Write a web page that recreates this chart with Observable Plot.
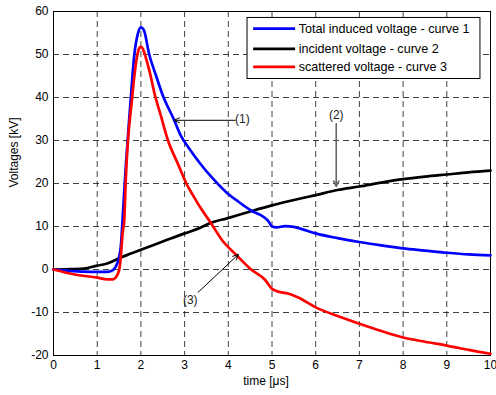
<!DOCTYPE html>
<html>
<head>
<meta charset="utf-8">
<script src="https://cdn.jsdelivr.net/npm/d3@7"></script>
<script src="https://cdn.jsdelivr.net/npm/@observablehq/plot@0.6"></script>
<style>
  html, body { margin: 0; padding: 0; background: #fff; }
  svg { font-family: "Liberation Sans", Arial, sans-serif; }
</style>
</head>
<body>
<div id="chart"></div>
<script>
const xTicks = [0,1,2,3,4,5,6,7,8,9,10];
const yTicks = [-20,-10,0,10,20,30,40,50,60];

const seriesNames = ["Total induced voltage - curve 1", "incident voltage - curve 2", "scattered voltage - curve 3"];
const seriesColors = ["#0000ff", "#000000", "#ff0000"];

const blueX = [0,0.3,0.69,1.0,1.23,1.35,1.42,1.5,1.54,1.58,1.63,1.77,1.85,1.93,2.0,2.07,2.19,2.35,2.5,2.75,2.92,3.1,3.36,3.66,3.97,4.2,4.54,4.81,4.92,5.0,5.1,5.3,5.5,5.65,6.0,6.5,7.0,7.5,8.0,8.5,9.0,9.5,10];
const blueY = [0,-0.25,-0.5,-0.55,-0.55,-0.2,0.6,2.8,5.3,11.5,20,40,50,54.8,56.3,55.6,50,45,40.5,35,31,28.2,24.6,21,17.8,16,13.6,12.2,11.2,10,9.8,10.1,9.9,9.5,8.4,7.3,6.4,5.6,4.9,4.4,3.9,3.5,3.3];

const redX = [0,0.46,1.0,1.23,1.35,1.42,1.5,1.54,1.58,1.62,1.65,1.8,1.92,1.97,2.0,2.05,2.12,2.2,2.31,2.45,2.62,2.85,3.04,3.19,3.36,3.59,3.86,4.2,4.5,4.85,5.0,5.1,5.37,5.6,6.0,6.5,7.0,7.5,8.0,8.5,9.0,9.5,10];
const redY = [0,-1.1,-1.9,-2.3,-2.3,-1.9,-0.2,2.9,8.4,11.5,20,40,50,51.6,51.8,51.2,49,46,41,36,30,24.5,20,17.3,14.4,11,6.8,3.2,0.2,-2.5,-4.5,-5.0,-5.6,-6.5,-8.8,-10.8,-12.6,-14.3,-15.8,-16.8,-17.7,-18.7,-19.6];

const blackX = [0,0.3,0.69,1.0,1.23,1.54,1.77,2.0,2.5,3.0,3.36,3.59,3.97,4.54,5.0,5.65,6.0,6.5,7.0,7.5,8.0,8.5,9.0,9.5,10];
const blackY = [0,0.05,0.2,0.9,1.4,2.8,3.7,4.6,6.5,8.4,9.7,10.8,11.9,13.6,14.9,16.5,17.3,18.5,19.3,20.2,21.0,21.6,22.1,22.6,23.0];

const annLabels = ["(1)", "(2)", "(3)"];
const annTextX = [4.32, 6.47, 3.13];
const annTextY = [35, 35.8, -7.2];
const arrowX1 = [4.16, 6.47, 3.31];
const arrowY1 = [34.7, 33.9, -5.3];
const arrowX2 = [2.76, 6.47, 4.23];
const arrowY2 = [34.7, 19.3, 3.5];

const toPts = (xs, ys) => xs.map((x, i) => ({x, y: ys[i]}));
const blue = toPts(blueX, blueY);
const red = toPts(redX, redY);
const black = toPts(blackX, blackY);

const ann = annLabels.map((t, i) => ({t, tx: annTextX[i], ty: annTextY[i], x1: arrowX1[i], y1: arrowY1[i], x2: arrowX2[i], y2: arrowY2[i]}));

// legend rows (data coordinates inside the frame)
const legRowY = [56.0, 51.3, 47.1];
const legend = seriesNames.map((n, i) => ({n, c: seriesColors[i], y: legRowY[i]}));

const chart = Plot.plot({
  width: 496,
  height: 395,
  marginLeft: 53,
  marginRight: 6,
  marginTop: 11,
  marginBottom: 40,
  style: {fontFamily: "Liberation Sans, Arial, sans-serif", fontSize: "12px", background: "#fff"},
  x: {type: "linear", domain: [0, 10]},
  y: {type: "linear", domain: [-20, 60]},
  marks: [
    Plot.gridX(xTicks.slice(1, -1), {stroke: "#000", strokeOpacity: 0.75, strokeDasharray: "6,4"}),
    Plot.gridY(yTicks.slice(1, -1), {stroke: "#000", strokeOpacity: 0.75, strokeDasharray: "6,4"}),
    Plot.axisX({ticks: xTicks, tickSize: 0, tickPadding: 5, fontSize: 12, label: null, tickFormat: d => String(d)}),
    Plot.axisY({ticks: yTicks, tickSize: 0, tickPadding: 5, fontSize: 12, label: null, tickFormat: d => String(d)}),
    Plot.frame({stroke: "#000", strokeWidth: 1}),
    Plot.line(black, {x: "x", y: "y", stroke: seriesColors[1], strokeWidth: 2.7, curve: "monotone-x"}),
    Plot.line(blue, {x: "x", y: "y", stroke: seriesColors[0], strokeWidth: 2.7, curve: "monotone-x"}),
    Plot.line(red, {x: "x", y: "y", stroke: seriesColors[2], strokeWidth: 2.7, curve: "monotone-x"}),
    // annotations
    Plot.arrow(ann, {x1: "x1", y1: "y1", x2: "x2", y2: "y2", stroke: (d, i) => i === 1 ? "#666" : "#000", strokeWidth: (d, i) => i === 1 ? 1.6 : 1, headLength: 9, headAngle: 50}),
    Plot.text(ann, {x: "tx", y: "ty", text: "t", fontSize: 12, fill: "#222"}),
    // legend box
    Plot.rect([0], {x1: 4.44, x2: 9.77, y1: 44.3, y2: 58.5, fill: "#fff", stroke: "#000", strokeWidth: 1}),
    Plot.ruleY(legend, {y: "y", x1: 4.58, x2: 5.54, stroke: "c", strokeWidth: 2.7}),
    Plot.text(legend, {y: "y", x: 5.61, text: "n", textAnchor: "start", fontSize: 12.6, fill: "#000"}),
    // axis titles
    Plot.text(["time [\u03bcs]"], {frameAnchor: "bottom", dx: -6, dy: 29, text: d => d, fontSize: 12, fill: "#000"}),
    Plot.text(["Voltages [kV]"], {frameAnchor: "left", dx: -39, dy: 4, rotate: -90, text: d => d, fontSize: 12, fill: "#000"})
  ]
});
document.getElementById("chart").appendChild(chart);
</script>
</body>
</html>
